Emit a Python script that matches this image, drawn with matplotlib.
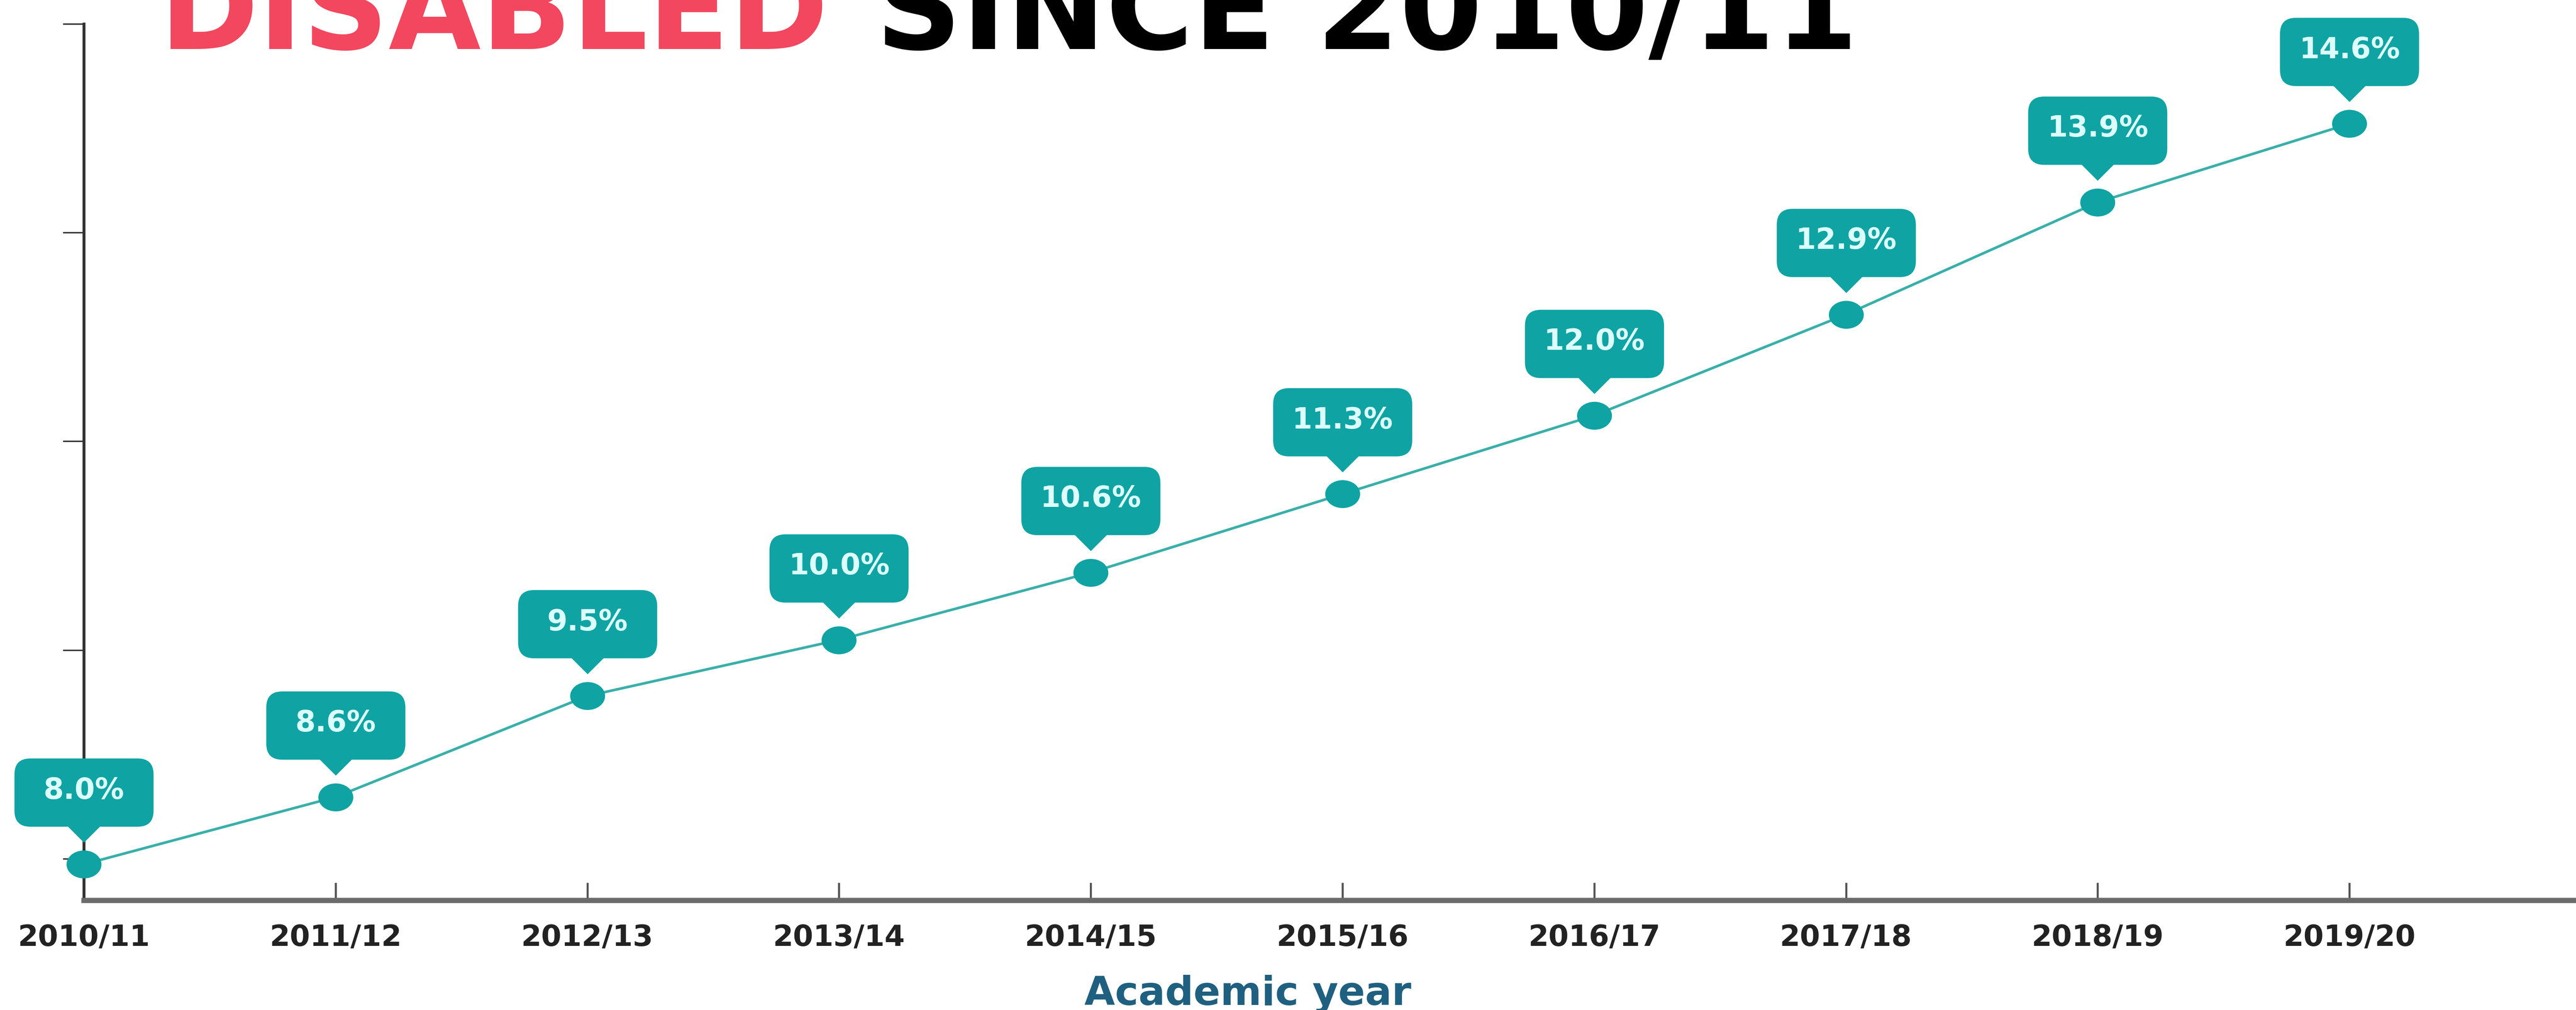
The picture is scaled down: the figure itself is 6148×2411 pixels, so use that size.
import numpy as np
import matplotlib
matplotlib.use("Agg")
import matplotlib.pyplot as plt
from matplotlib.path import Path
from matplotlib.markers import MarkerStyle
from matplotlib.transforms import Affine2D

# data
years = ["2010/11", "2011/12", "2012/13", "2013/14", "2014/15",
         "2015/16", "2016/17", "2017/18", "2018/19", "2019/20"]
share = [8.0, 8.6, 9.5, 10.0, 10.6, 11.3, 12.0, 12.9, 13.9, 14.6]
labels = ["8.0%", "8.6%", "9.5%", "10.0%", "10.6%",
          "11.3%", "12.0%", "12.9%", "13.9%", "14.6%"]

W, H, DPI = 6148, 2411, 100
PT = 72.0 / DPI  # px -> pt

teal = "#10a3a3"
line_col = "#3aafa9"

fig = plt.figure(figsize=(W / DPI, H / DPI), dpi=DPI)
ax = fig.add_axes([200 / W, 262 / H, 1 - 200 / W, (2149 - 57) / H])

x = np.arange(len(years))

# callout shape (box + pointer) in px, relative to the point
bw, b0, b1, r, pw, tip = 166, 90, 253, 38, 38, 52
verts = [(-bw + r, b1), (bw - r, b1), (bw, b1), (bw, b1 - r),
         (bw, b0 + r), (bw, b0), (bw - r, b0),
         (pw, b0), (0, tip), (-pw, b0),
         (-bw + r, b0), (-bw, b0), (-bw, b0 + r),
         (-bw, b1 - r), (-bw, b1), (-bw + r, b1), (-bw + r, b1)]
codes = [Path.MOVETO, Path.LINETO, Path.CURVE3, Path.CURVE3,
         Path.LINETO, Path.CURVE3, Path.CURVE3,
         Path.LINETO, Path.LINETO, Path.LINETO,
         Path.LINETO, Path.CURVE3, Path.CURVE3,
         Path.LINETO, Path.CURVE3, Path.CURVE3, Path.CLOSEPOLY]
callout = Path(verts, codes)

ax.plot(x, share, color=line_col, lw=4.5, zorder=2, clip_on=False)
dot = MarkerStyle("o", transform=Affine2D().scale(1.25, 1.0))
ax.plot(x, share, ls="none", marker=dot, ms=48, color=teal,
        markeredgewidth=0, zorder=3, clip_on=False)
ax.plot(x, share, ls="none", marker=callout, ms=2 * b1 * PT, color=teal,
        markeredgewidth=0, zorder=4, clip_on=False)

for xi, yi, lab in zip(x, share, labels):
    ax.annotate(lab, (xi, yi), xytext=(0, 176 * PT), textcoords="offset points",
                ha="center", va="center", fontsize=50, fontweight="bold",
                color="#dcffff", zorder=5, annotation_clip=False)

ax.set_xlim(0, 9.9)
ax.set_ylim(7.68, 15.49)
ax.set_xticks(x)
ax.set_xticklabels(years, fontsize=50, fontweight="bold", color="#222222")
ax.set_yticks(np.linspace(8.05, 15.49, 5))
ax.tick_params(axis="y", direction="out", length=36, width=2.5,
               color="#333333", labelleft=False)
ax.tick_params(axis="x", direction="in", length=30, width=3.5,
               color="#555555", pad=40)

for s in ["top", "right"]:
    ax.spines[s].set_visible(False)
ax.spines["left"].set_color("#333333")
ax.spines["left"].set_linewidth(5)
ax.spines["bottom"].set_color("#6b6b6b")
ax.spines["bottom"].set_linewidth(9)

ax.set_xlabel("Academic year", fontsize=68, fontweight="bold", color="#1f6080")
ax.xaxis.set_label_coords(0.467, -0.085)

# title, cut off at the top like the source
fig.text(381 / W, 1 - 117 / H, "DISABLED", fontsize=205, fontweight="bold",
         color="#f2475f", va="baseline", ha="left")
fig.text(2090 / W, 1 - 117 / H, "SINCE 2010/11", fontsize=205,
         fontweight="bold", color="black", va="baseline", ha="left")

fig.savefig("out.png", dpi=DPI, facecolor="white")
